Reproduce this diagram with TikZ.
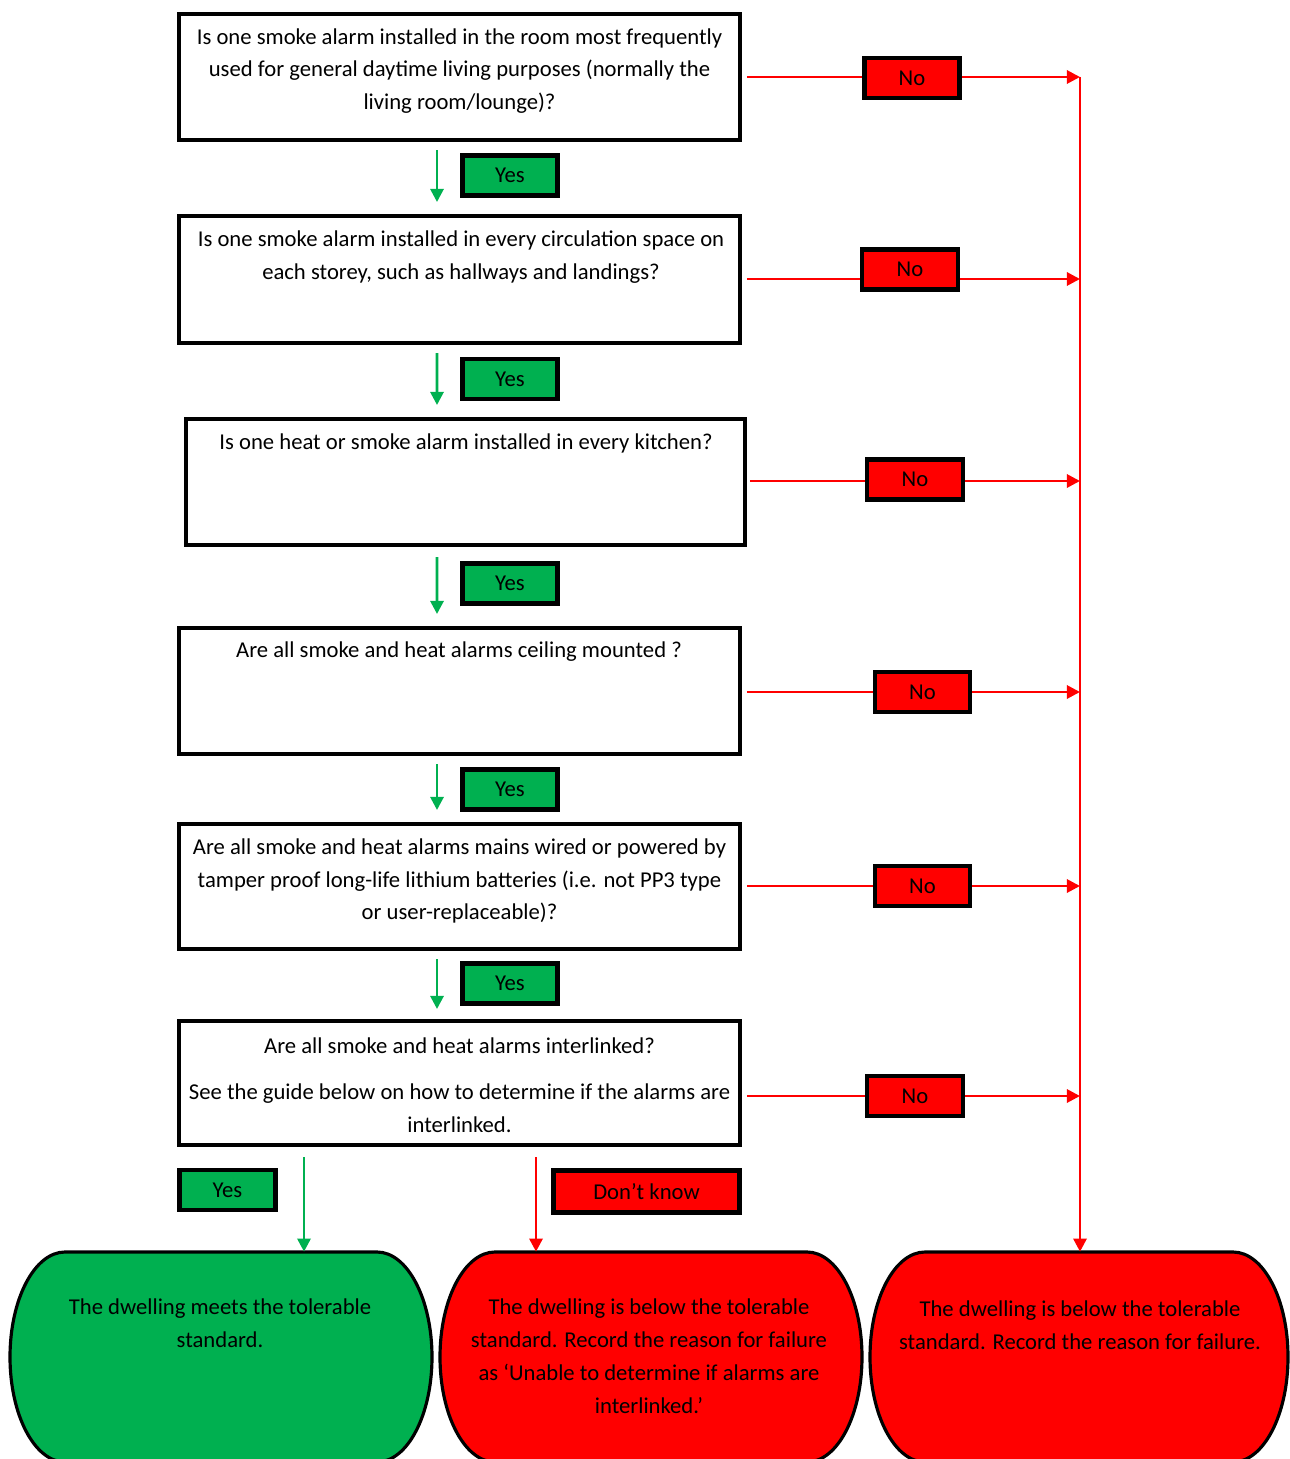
\documentclass[tikz,border=0pt]{standalone}
\usepackage{fontspec}
\setmainfont{Carlito}
\usetikzlibrary{arrows.meta}
\definecolor{okgreen}{HTML}{00B050}
\definecolor{nored}{HTML}{FF0000}
\begin{document}
\begin{tikzpicture}[x=0.02cm,y=-0.02cm,
  qbox/.style={draw=black,line width=2.3pt,minimum width=11.22cm,inner sep=0pt,fill=white},
  qtext/.style={align=center,font=\fontsize{12.9}{18.7}\selectfont,inner sep=0pt},
  lbl/.style={draw=black,line width=2.6pt,minimum width=1.9cm,minimum height=0.8cm,inner sep=0pt,font=\fontsize{12.9}{15}\selectfont},
  yesbox/.style={lbl,fill=okgreen},
  nobox/.style={lbl,fill=nored},
  garrow/.style={draw=okgreen,line width=1.6pt,-{Triangle[length=7.5pt,width=7.5pt]}},
  rarrow/.style={draw=nored,line width=1.6pt,-{Triangle[length=7.5pt,width=7.5pt]}},
  rline/.style={draw=nored,line width=1.6pt},
  oval/.style={draw=black,line width=1.8pt},
  otext/.style={align=center,font=\fontsize{12.9}{18.7}\selectfont,inner sep=0pt}
]
\useasboundingbox (0,0) rectangle (1290,1459);

% question boxes
\node[qbox,minimum height=2.52cm] (q1) at (459.5,77) {};
\node[qbox,minimum height=2.54cm] (q2) at (459.5,279.5) {};
\node[qbox,minimum height=2.52cm,minimum width=11.18cm] (q3) at (465.5,482) {};
\node[qbox,minimum height=2.52cm] (q4) at (459.5,691) {};
\node[qbox,minimum height=2.5cm] (q5) at (459.5,886.5) {};
\node[qbox,minimum height=2.48cm] (q6) at (459.5,1083) {};

\node[qtext] (t1) at (459.5,71) {Is one smoke alarm installed in the room most frequently\\used for general daytime living purposes (normally the\\living room/lounge)?};
\node[qtext] (t2) at (461,257) {Is one smoke alarm installed in every circulation space on\\each storey, such as hallways and landings?};
\node[qtext] (t3) at (466,443) {Is one heat or smoke alarm installed in every kitchen?};
\node[qtext] (t4) at (459,652) {Are all smoke and heat alarms ceiling mounted ?};
\node[qtext] (t5) at (459.5,881) {Are all smoke and heat alarms mains wired or powered by\\tamper proof long-life lithium batteries (i.e. not PP3 type\\or user-replaceable)?};
\node[qtext] (t6) at (459.5,1085) {Are all smoke and heat alarms interlinked?\\[0.26cm]See the guide below on how to determine if the alarms are\\interlinked.};

% Yes labels and green arrows
\node[yesbox] (y1) at (510,175.5) {Yes};
\node[yesbox] (y2) at (510,379) {Yes};
\node[yesbox] (y3) at (510,583.5) {Yes};
\node[yesbox] (y4) at (510,789.5) {Yes};
\node[yesbox] (y5) at (510,983.5) {Yes};
\node[yesbox,minimum width=1.92cm] (y6) at (227.5,1190) {Yes};
\node[nobox,minimum width=3.72cm,minimum height=0.84cm] (dk) at (646.5,1191.5) {Don’t know};

\draw[garrow] ([xshift=-0.45cm,yshift=-0.16cm]q1.south) -- ([xshift=-0.45cm,yshift=0.24cm]q2.north);
\draw[garrow] ([xshift=-0.45cm,yshift=-0.16cm]q2.south) -- ([xshift=-0.57cm,yshift=0.24cm]q3.north);
\draw[garrow] ([xshift=-0.57cm,yshift=-0.2cm]q3.south) -- ([xshift=-0.45cm,yshift=0.24cm]q4.north);
\draw[garrow] ([xshift=-0.45cm,yshift=-0.16cm]q4.south) -- ([xshift=-0.45cm,yshift=0.24cm]q5.north);
\draw[garrow] ([xshift=-0.45cm,yshift=-0.16cm]q5.south) -- ([xshift=-0.45cm,yshift=0.2cm]q6.north);

% end shapes
\node[inner sep=0pt,minimum width=8.44cm,minimum height=4.2cm] (eg) at (221,1357) {};
\node[inner sep=0pt,minimum width=8.44cm,minimum height=4.2cm] (em) at (651,1357) {};
\node[inner sep=0pt,minimum width=8.36cm,minimum height=4.2cm] (er) at (1079,1357) {};

\filldraw[oval,fill=okgreen] (65,1252) -- (377,1252) arc[start angle=-90,end angle=90,x radius=55,y radius=105] -- (65,1462) arc[start angle=90,end angle=270,x radius=55,y radius=105] -- cycle;
\filldraw[oval,fill=nored] (495,1252) -- (807,1252) arc[start angle=-90,end angle=90,x radius=55,y radius=105] -- (495,1462) arc[start angle=90,end angle=270,x radius=55,y radius=105] -- cycle;
\filldraw[oval,fill=nored] (925,1252) -- (1233,1252) arc[start angle=-90,end angle=90,x radius=55,y radius=105] -- (925,1462) arc[start angle=90,end angle=270,x radius=55,y radius=105] -- cycle;

\node[otext] (tg) at (220,1323) {The dwelling meets the tolerable\\standard.};
\node[otext] (tm) at (649,1356) {The dwelling is below the tolerable\\standard. Record the reason for failure\\as ‘Unable to determine if alarms are\\interlinked.’};
\node[otext] (tr) at (1080,1325) {The dwelling is below the tolerable\\standard. Record the reason for failure.};

\coordinate (gy) at (304,1157);
\coordinate (ry) at (536,1157);
\draw[garrow] (gy) -- (eg.north -| gy);
\draw[rarrow] (ry) -- (em.north -| ry);

% No branches
\node[nobox,minimum width=1.9cm] (n1) at (912,78) {No};
\node[nobox,minimum width=1.92cm] (n2) at (910,269.5) {No};
\node[nobox,minimum width=1.92cm] (n3) at (915,479.5) {No};
\node[nobox,minimum width=1.9cm] (n4) at (922.5,692) {No};
\node[nobox,minimum width=1.9cm] (n5) at (922.5,886) {No};
\node[nobox,minimum width=1.92cm] (n6) at (915,1096) {No};

\coordinate (r1) at (1080,77);
\coordinate (r2) at (1080,279);
\coordinate (r3) at (1080,481);
\coordinate (r4) at (1080,692);
\coordinate (r5) at (1080,886);
\coordinate (r6) at (1080,1096);

\draw[rline] ([xshift=0.1cm]q1.east |- r1) -- (n1.west |- r1);
\draw[rarrow] (n1.east |- r1) -- (r1);
\draw[rline] ([xshift=0.1cm]q2.east |- r2) -- (n2.west |- r2);
\draw[rarrow] (n2.east |- r2) -- (r2);
\draw[rline] ([xshift=0.06cm]q3.east |- r3) -- (n3.west |- r3);
\draw[rarrow] (n3.east |- r3) -- (r3);
\draw[rline] ([xshift=0.1cm]q4.east |- r4) -- (n4.west |- r4);
\draw[rarrow] (n4.east |- r4) -- (r4);
\draw[rline] ([xshift=0.1cm]q5.east |- r5) -- (n5.west |- r5);
\draw[rarrow] (n5.east |- r5) -- (r5);
\draw[rline] ([xshift=0.1cm]q6.east |- r6) -- (n6.west |- r6);
\draw[rarrow] (n6.east |- r6) -- (r6);

\draw[rarrow] (r1) -- (er.north -| r1);
\end{tikzpicture}
\end{document}
